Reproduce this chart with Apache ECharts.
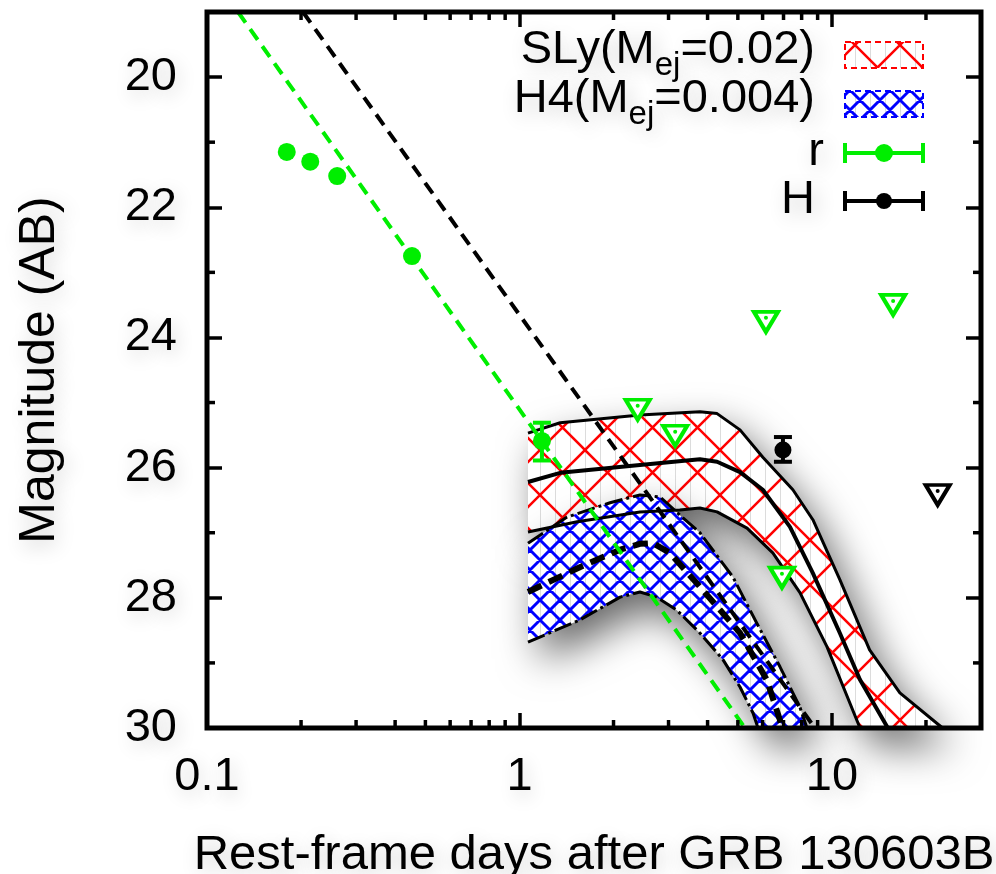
<!DOCTYPE html>
<html><head><meta charset="utf-8">
<script src="https://cdn.jsdelivr.net/npm/echarts@6/dist/echarts.min.js"></script>
<style>html,body{margin:0;padding:0;background:#fff}#c{width:996px;height:874px}</style>
</head><body><div id="c"></div>
<script>
// ---- axis ticks ----
const xTicks = [0.1, 1, 10];
const xMinorTicks = [0.2,0.3,0.4,0.5,0.6,0.7,0.8,0.9,2,3,4,5,6,7,8,9,20];
const yTicks = [20, 22, 24, 26, 28, 30];
const yMinorTicks = [21, 23, 25, 27, 29];

// ---- r-band detections ----
const rDays = [0.180, 0.214, 0.261, 0.453, 1.18];
const rMag  = [21.15, 21.30, 21.52, 22.75, 25.59];
const rErrDays = [1.18];
const rErrMag  = [25.59];
const rErrLo   = [25.31];
const rErrHi   = [25.89];
// ---- H-band detection ----
const hDays = [6.97];
const hMag  = [25.73];
const hErrLo = [25.53];
const hErrHi = [25.91];
// ---- upper limits ----
const rLimDays = [2.39, 3.15, 6.15, 6.92, 15.7];
const rLimMag  = [25.11, 25.51, 23.76, 27.69, 23.50];
const hLimDays = [21.8];
const hLimMag  = [26.42];
// ---- afterglow power laws ----
const rFitDays = [0.1257, 5.27];
const rFitMag  = [19.0, 30.0];
const hFitDays = [0.2028, 8.82];
const hFitMag  = [19.0, 30.0];
// ---- SLy kilonova band ----
const slyUpperDays = [1.065,1.35,2.43,3.78,4.29,5.08,6.01,7.50,8.69,10.6,13.2,16.5,22.6];
const slyUpperMag  = [25.47,25.31,25.19,25.14,25.17,25.42,25.84,26.34,26.80,27.72,28.80,29.46,30.0];
const slyMidDays   = [1.065,1.35,2.43,3.78,4.29,5.08,6.01,7.34,8.69,10.6,12.3,15.1];
const slyMidMag    = [26.22,26.08,25.96,25.87,25.91,26.07,26.34,26.91,27.62,28.54,29.26,30.0];
const slyLowerDays = [1.065,1.53,2.43,3.26,3.78,4.29,5.35,6.47,7.90,9.64,12.3];
const slyLowerMag  = [26.99,26.83,26.68,26.65,26.62,26.68,26.93,27.31,27.92,28.75,30.0];
// ---- H4 kilonova band ----
const h4UpperDays = [1.065,1.42,1.95,2.43,2.82,3.21,3.78,4.82,5.75,6.82,7.90,8.32];
const h4UpperMag  = [27.16,26.76,26.54,26.42,26.45,26.70,27.00,27.68,28.39,29.06,29.68,30.0];
const h4MidDays   = [1.065,1.56,2.10,2.43,2.67,3.03,3.78,5.08,6.19,6.82,6.92];
const h4MidMag    = [27.91,27.53,27.26,27.17,27.16,27.31,27.83,28.54,29.26,29.88,30.0];
const h4LowerDays = [1.065,1.56,2.10,2.43,2.75,3.19,3.78,4.48,5.08,5.59,5.80];
const h4LowerMag  = [28.68,28.34,27.99,27.91,27.99,28.19,28.54,28.95,29.37,29.77,30.0];

const FONT = 'Liberation Sans, Arial, Helvetica, sans-serif';
const GREEN = '#00ee00';

function pairs(d, m) { return d.map((v, i) => [v, m[i]]); }

function makePattern(tile, spacing, color, lw) {
  const c = document.createElement('canvas');
  c.width = tile; c.height = tile;
  const g = c.getContext('2d');
  g.fillStyle = '#fff'; g.fillRect(0, 0, tile, tile);
  g.strokeStyle = '#dcdcdc'; g.lineWidth = 1;
  for (let x = 0.5; x < tile; x += 15) { g.beginPath(); g.moveTo(x, 0); g.lineTo(x, tile); g.stroke(); }
  g.strokeStyle = color; g.lineWidth = lw;
  g.beginPath();
  for (let k = -2 * tile; k <= 3 * tile; k += spacing) {
    g.moveTo(k, 0); g.lineTo(k + tile, tile);
    g.moveTo(k, 0); g.lineTo(k - tile, tile);
  }
  g.stroke();
  return c;
}
const redPat = { image: makePattern(90, 45, '#ff0000', 2.5), repeat: 'repeat' };
const bluePat = { image: makePattern(60, 20, '#0000ff', 3), repeat: 'repeat' };

function bandSeries(name, uD, uM, lD, lM, pat, z) {
  return {
    type: 'custom', name, z, silent: true,
    data: [[uD[0], uM[0]]],
    renderItem: function (params, api) {
      const pts = [];
      for (let i = 0; i < uD.length; i++) pts.push(api.coord([uD[i], uM[i]]));
      for (let i = lD.length - 1; i >= 0; i--) pts.push(api.coord([lD[i], lM[i]]));
      return { type: 'polygon', shape: { points: pts },
        style: { fill: pat, stroke: null, shadowBlur: 40, shadowColor: 'rgba(0,0,0,0.6)', shadowOffsetX: 12, shadowOffsetY: 18 } };
    }
  };
}
function lineSeries(d, m, color, width, type, z) {
  return { type: 'line', data: pairs(d, m), showSymbol: false, symbol: 'none', z, silent: true,
    lineStyle: { color, width, type, cap: 'butt', join: 'round' } };
}
function errSeries(d, m, lo, hi, color, z) {
  return {
    type: 'custom', z, silent: true,
    data: d.map((v, i) => [v, m[i], lo[i], hi[i]]),
    renderItem: function (params, api) {
      const x = api.value(0);
      const a = api.coord([x, api.value(2)]);
      const b = api.coord([x, api.value(3)]);
      const st = { stroke: color, lineWidth: 4 };
      return { type: 'group', children: [
        { type: 'line', shape: { x1: a[0], y1: a[1], x2: b[0], y2: b[1] }, style: st },
        { type: 'line', shape: { x1: a[0] - 9, y1: a[1], x2: a[0] + 9, y2: a[1] }, style: st },
        { type: 'line', shape: { x1: b[0] - 9, y1: b[1], x2: b[0] + 9, y2: b[1] }, style: st }
      ] };
    }
  };
}

const chart = echarts.init(document.getElementById('c'), null, { renderer: 'canvas' });

const axisLabelStyle = { fontFamily: FONT, fontSize: 47, color: '#000',
  textShadowColor: 'rgba(0,0,0,0.18)', textShadowBlur: 18, textShadowOffsetX: 3, textShadowOffsetY: 5 };
const tickStyle = { show: true, inside: true, length: 15, lineStyle: { color: '#000', width: 3.5 } };

const legendText = (main, sub, rest) => '{m|' + main + '}{s|' + sub + '}{m|' + rest + '}';
const legendRich = {
  m: { fontFamily: FONT, fontSize: 47, color: '#000', lineHeight: 44 },
  s: { fontFamily: FONT, fontSize: 33, color: '#000', lineHeight: 64, verticalAlign: 'bottom' }
};
const txtShadow = { textShadowColor: 'rgba(0,0,0,0.2)', textShadowBlur: 20, textShadowOffsetX: 4, textShadowOffsetY: 6 };

const option = {
  animation: false,
  backgroundColor: '#fff',
  grid: { left: 207, right: 15, top: 12, bottom: 146, show: true, borderColor: '#000', borderWidth: 5,
    backgroundColor: 'transparent', z: 20, containLabel: false, outerBoundsMode: 'none' },
  xAxis: [
    { type: 'log', logBase: 10, min: 0.1, max: 30, position: 'bottom', z: 20,
      name: 'Rest-frame days after GRB 130603B', nameLocation: 'middle', nameGap: 103,
      nameTextStyle: { fontFamily: FONT, fontSize: 49, color: '#000', ...txtShadow },
      axisLine: { show: false }, splitLine: { show: false },
      axisTick: { ...tickStyle, customValues: xTicks },
      axisLabel: { ...axisLabelStyle, margin: 26, customValues: xTicks,
        formatter: v => (v < 1 ? String(Math.round(v * 10) / 10) : String(Math.round(v))) } },
    { type: 'log', logBase: 10, min: 0.1, max: 30, position: 'top', z: 20,
      axisLine: { show: false }, splitLine: { show: false },
      axisTick: { ...tickStyle, customValues: xTicks }, axisLabel: { show: false } }
  ],
  yAxis: [
    { type: 'value', min: 19, max: 30, inverse: true, position: 'left', z: 20,
      name: 'Magnitude (AB)', nameLocation: 'middle', nameGap: 142,
      nameTextStyle: { fontFamily: FONT, fontSize: 50, color: '#000', ...txtShadow },
      axisLine: { show: false }, splitLine: { show: false },
      axisTick: { ...tickStyle, customValues: yTicks },
      axisLabel: { ...axisLabelStyle, margin: 30, customValues: yTicks } },
    { type: 'value', min: 19, max: 30, inverse: true, position: 'right', z: 20,
      axisLine: { show: false }, splitLine: { show: false },
      axisTick: { ...tickStyle, customValues: yTicks }, axisLabel: { show: false } }
  ],
  series: [
    bandSeries('SLy', slyUpperDays, slyUpperMag, slyLowerDays, slyLowerMag, redPat, 1),
    bandSeries('H4', h4UpperDays, h4UpperMag, h4LowerDays, h4LowerMag, bluePat, 2),
    lineSeries(slyUpperDays, slyUpperMag, '#000', 3, 'solid', 3),
    lineSeries(slyMidDays, slyMidMag, '#000', 4, 'solid', 3),
    lineSeries(slyLowerDays, slyLowerMag, '#000', 3, 'solid', 3),
    lineSeries(h4UpperDays, h4UpperMag, '#000', 3, [18, 4, 3, 4], 3),
    lineSeries(h4MidDays, h4MidMag, '#000', 6, [15, 8], 3),
    lineSeries(h4LowerDays, h4LowerMag, '#000', 3, [18, 4, 3, 4], 3),
    lineSeries(rFitDays, rFitMag, GREEN, 4, [13, 8], 4),
    lineSeries(hFitDays, hFitMag, '#000', 4, [13, 8], 4),
    errSeries(rErrDays, rErrMag, rErrLo, rErrHi, GREEN, 5),
    errSeries(hDays, hMag, hErrLo, hErrHi, '#000', 5),
    { type: 'scatter', z: 6, silent: true, data: pairs(rDays, rMag), symbol: 'circle', symbolSize: 18,
      itemStyle: { color: GREEN, opacity: 1 } },
    { type: 'scatter', z: 6, silent: true, data: pairs(hDays, hMag), symbol: 'circle', symbolSize: 17,
      itemStyle: { color: '#000', opacity: 1 } },
    { type: 'scatter', z: 6, silent: true, data: pairs(rLimDays, rLimMag), symbol: 'triangle', symbolRotate: 180,
      symbolSize: [24, 20], itemStyle: { color: '#fff', borderColor: GREEN, borderWidth: 4, opacity: 1 } },
    { type: 'scatter', z: 7, silent: true, data: pairs(rLimDays, rLimMag), symbol: 'circle', symbolSize: 4,
      symbolOffset: [0, -4], itemStyle: { color: GREEN, opacity: 1 } },
    { type: 'scatter', z: 6, silent: true, data: pairs(hLimDays, hLimMag), symbol: 'triangle', symbolRotate: 180,
      symbolSize: [24, 20], itemStyle: { color: '#fff', borderColor: '#000', borderWidth: 4, opacity: 1 } },
    { type: 'scatter', z: 7, silent: true, data: pairs(hLimDays, hLimMag), symbol: 'circle', symbolSize: 4,
      symbolOffset: [0, -4], itemStyle: { color: '#000', opacity: 1 } },
    { type: 'custom', z: 21, silent: true, clip: false,
      data: xMinorTicks.map(v => [v, 30]),
      renderItem: function (params, api) {
        const v = api.value(0);
        const b = api.coord([v, 30]); const t = api.coord([v, 19]);
        const st = { stroke: '#000', lineWidth: 3.5 };
        return { type: 'group', children: [
          { type: 'line', shape: { x1: b[0], y1: b[1], x2: b[0], y2: b[1] - 8 }, style: st },
          { type: 'line', shape: { x1: t[0], y1: t[1], x2: t[0], y2: t[1] + 8 }, style: st }
        ] };
      } },
    { type: 'custom', z: 21, silent: true, clip: false,
      data: yMinorTicks.map(v => [0.1, v]),
      renderItem: function (params, api) {
        const v = api.value(1);
        const l = api.coord([0.1, v]); const r = api.coord([30, v]);
        const st = { stroke: '#000', lineWidth: 3.5 };
        return { type: 'group', children: [
          { type: 'line', shape: { x1: l[0], y1: l[1], x2: l[0] + 8, y2: l[1] }, style: st },
          { type: 'line', shape: { x1: r[0], y1: r[1], x2: r[0] - 8, y2: r[1] }, style: st }
        ] };
      } }
  ],
  graphic: [
    { type: 'text', x: 815, y: 50, z: 30, style: { text: legendText('SLy(M', 'ej', '=0.02)'), rich: legendRich,
        align: 'right', verticalAlign: 'middle', ...txtShadow } },
    { type: 'rect', z: 30, shape: { x: 845, y: 42, width: 78, height: 26 },
      style: { fill: redPat, stroke: '#ff0000', lineWidth: 2, lineDash: [6, 4] } },
    { type: 'text', x: 815, y: 99, z: 30, style: { text: legendText('H4(M', 'ej', '=0.004)'), rich: legendRich,
        align: 'right', verticalAlign: 'middle', ...txtShadow } },
    { type: 'rect', z: 30, shape: { x: 845, y: 91, width: 78, height: 26 },
      style: { fill: bluePat, stroke: '#0000ff', lineWidth: 2, lineDash: [6, 4] } },
    { type: 'text', x: 824, y: 152, z: 30, style: { text: 'r', font: '47px ' + FONT, fill: '#000',
        align: 'right', verticalAlign: 'middle', ...txtShadow } },
    { type: 'group', z: 30, children: [
      { type: 'line', shape: { x1: 845, y1: 153, x2: 923, y2: 153 }, style: { stroke: GREEN, lineWidth: 4 } },
      { type: 'line', shape: { x1: 845, y1: 143, x2: 845, y2: 163 }, style: { stroke: GREEN, lineWidth: 4 } },
      { type: 'line', shape: { x1: 923, y1: 143, x2: 923, y2: 163 }, style: { stroke: GREEN, lineWidth: 4 } },
      { type: 'circle', shape: { cx: 884, cy: 153, r: 9 }, style: { fill: GREEN } }
    ] },
    { type: 'text', x: 815, y: 200, z: 30, style: { text: 'H', font: '47px ' + FONT, fill: '#000',
        align: 'right', verticalAlign: 'middle', ...txtShadow } },
    { type: 'group', z: 30, children: [
      { type: 'line', shape: { x1: 845, y1: 201, x2: 923, y2: 201 }, style: { stroke: '#000', lineWidth: 4 } },
      { type: 'line', shape: { x1: 845, y1: 191, x2: 845, y2: 211 }, style: { stroke: '#000', lineWidth: 4 } },
      { type: 'line', shape: { x1: 923, y1: 191, x2: 923, y2: 211 }, style: { stroke: '#000', lineWidth: 4 } },
      { type: 'circle', shape: { cx: 884, cy: 201, r: 8 }, style: { fill: '#000' } }
    ] }
  ]
};
chart.setOption(option);
</script>
</body></html>
